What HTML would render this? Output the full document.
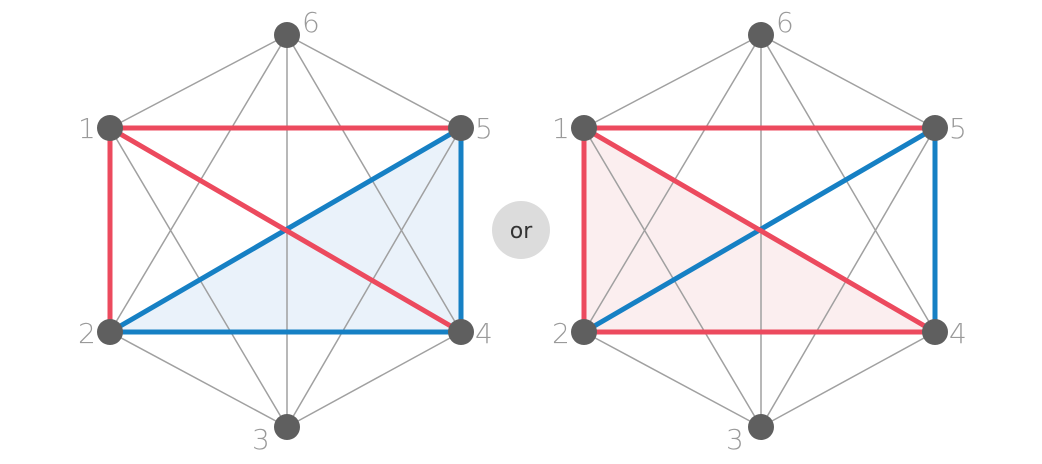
<!DOCTYPE html>
<html><head><meta charset="utf-8"><style>body{margin:0;background:#fff}svg{display:block}text{font-family:"DejaVu Sans","Liberation Sans",sans-serif;font-weight:200;fill:#9a9a9a;font-size:28px}</style></head><body>
<svg width="1042" height="464" viewBox="0 0 1042 464" xmlns="http://www.w3.org/2000/svg">
<defs>
<g id="gray" stroke="#a0a0a0" stroke-width="1.5">
<line x1="110" y1="128" x2="287" y2="35"/><line x1="110" y1="128" x2="287" y2="427"/><line x1="110" y1="128" x2="461" y2="332"/>
<line x1="110" y1="332" x2="287" y2="35"/><line x1="110" y1="332" x2="287" y2="427"/>
<line x1="461" y1="128" x2="287" y2="35"/><line x1="461" y1="128" x2="287" y2="427"/>
<line x1="461" y1="332" x2="287" y2="35"/><line x1="461" y1="332" x2="287" y2="427"/>
<line x1="287" y1="35" x2="287" y2="427"/>
</g>
<g id="nodes" fill="#5f5f5f">
<circle cx="110" cy="128" r="13"/><circle cx="461" cy="128" r="13"/><circle cx="110" cy="332" r="13"/><circle cx="461" cy="332" r="13"/><circle cx="287" cy="35" r="13"/><circle cx="287" cy="427" r="13"/>
</g>
<g id="labels">
<text x="78" y="138">1</text><text x="475" y="138">5</text><text x="78" y="343">2</text><text x="475" y="343">4</text><text x="302" y="32">6</text><text x="252" y="449">3</text>
</g>
</defs>
<polygon points="110,332 461,128 461,332" fill="#eaf2fa"/>
<use href="#gray"/>
<g stroke-width="5" stroke-linecap="round">
<line x1="110" y1="332" x2="461" y2="128" stroke="#1680c4"/>
<line x1="110" y1="332" x2="461" y2="332" stroke="#1680c4"/>
<line x1="461" y1="128" x2="461" y2="332" stroke="#1680c4"/>
<line x1="110" y1="128" x2="461" y2="128" stroke="#ec4a5e"/>
<line x1="110" y1="128" x2="110" y2="332" stroke="#ec4a5e"/>
<line x1="110" y1="128" x2="461" y2="332" stroke="#ec4a5e"/>
</g>
<use href="#nodes"/><use href="#labels"/>
<g transform="translate(474,0)">
<polygon points="110,128 110,332 461,332" fill="#fbeeef"/>
<use href="#gray"/>
<g stroke-width="5" stroke-linecap="round">
<line x1="110" y1="332" x2="461" y2="128" stroke="#1680c4"/>
<line x1="461" y1="128" x2="461" y2="332" stroke="#1680c4"/>
<line x1="110" y1="128" x2="461" y2="128" stroke="#ec4a5e"/>
<line x1="110" y1="128" x2="110" y2="332" stroke="#ec4a5e"/>
<line x1="110" y1="128" x2="461" y2="332" stroke="#ec4a5e"/>
<line x1="110" y1="332" x2="461" y2="332" stroke="#ec4a5e"/>
</g>
<use href="#nodes"/><use href="#labels"/>
</g>
<circle cx="521" cy="230" r="29" fill="#dcdcdc"/>
<text x="521" y="238" text-anchor="middle" style="fill:#333;font-size:22px;font-weight:400">or</text>
</svg>
</body></html>
